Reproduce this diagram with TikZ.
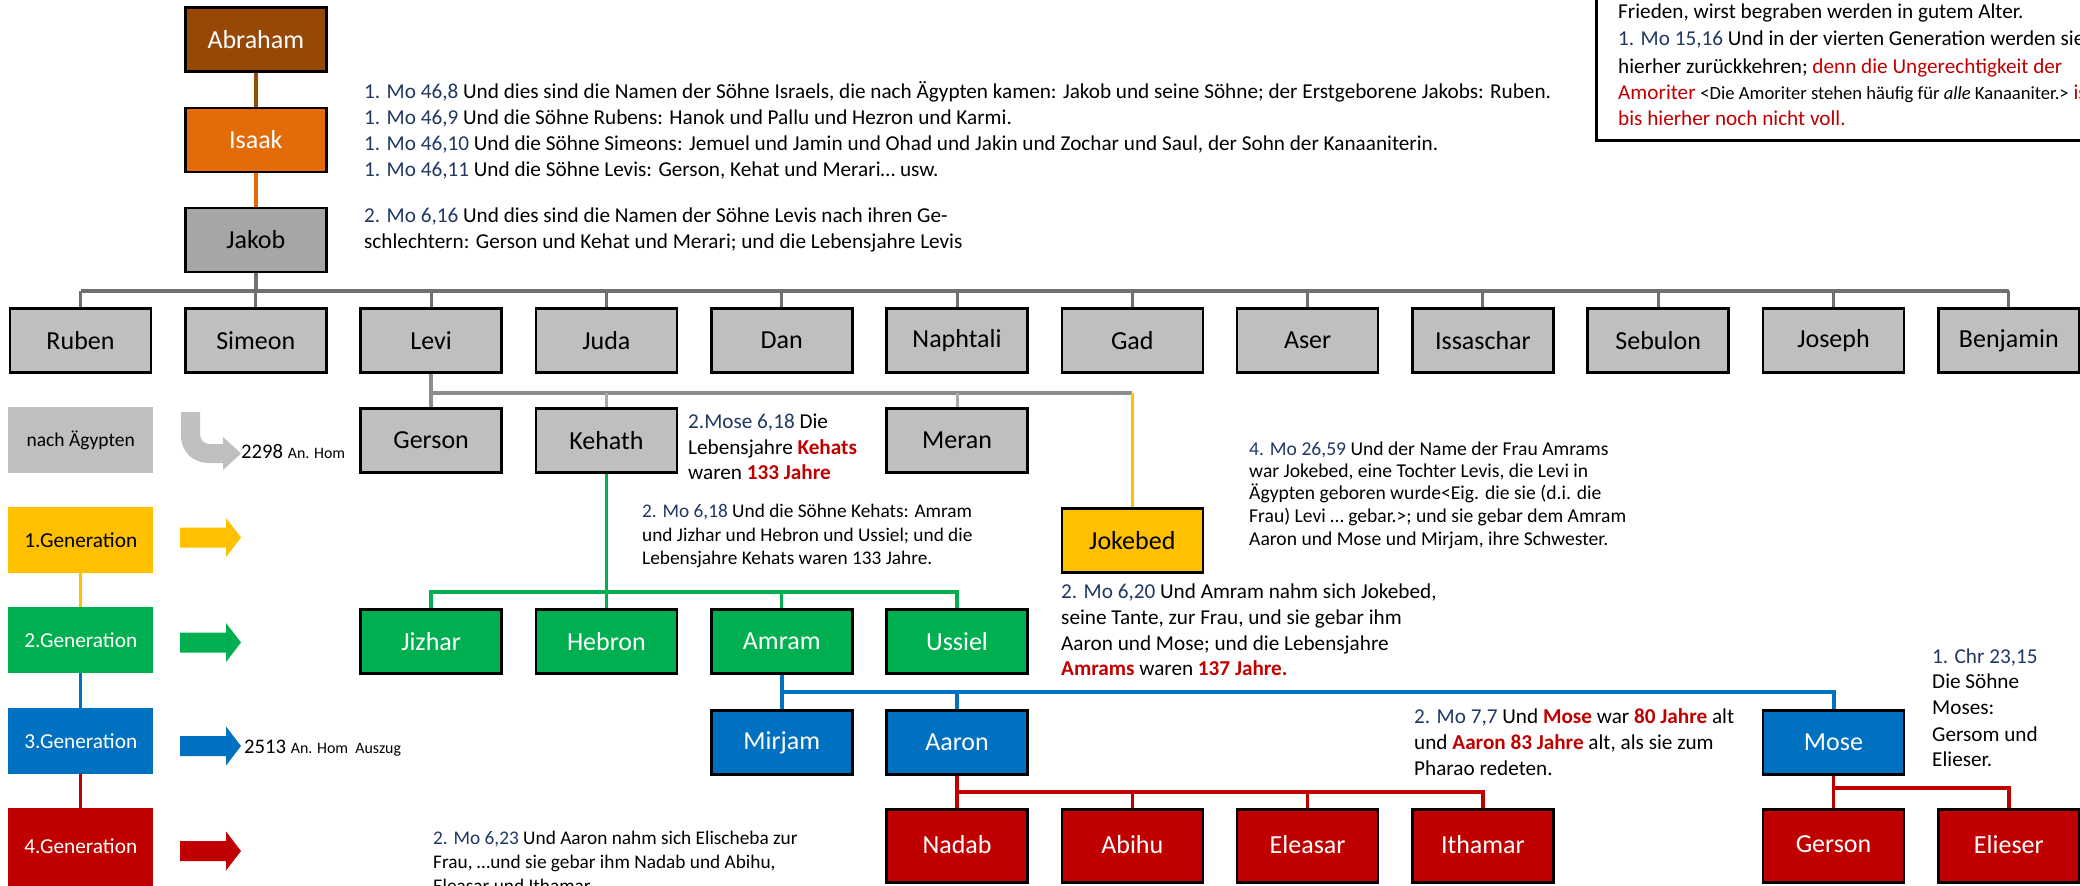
\documentclass[tikz,border=0pt]{standalone}
\usepackage{fontspec}
\setmainfont{Carlito}
\definecolor{brownA}{RGB}{151,71,6}
\definecolor{orangeI}{RGB}{227,108,9}
\definecolor{grayJ}{RGB}{166,166,166}
\definecolor{grayS}{RGB}{191,191,191}
\definecolor{lineG}{RGB}{112,112,112}
\definecolor{lineM}{RGB}{140,140,140}
\definecolor{lineL}{RGB}{170,170,170}
\definecolor{yel}{RGB}{255,192,0}
\definecolor{grn}{RGB}{0,176,80}
\definecolor{blu}{RGB}{0,112,192}
\definecolor{rd}{RGB}{192,0,0}
\definecolor{refblue}{RGB}{31,56,100}
\definecolor{arrowgray}{RGB}{191,191,191}
\newcommand\myfs[1]{\fontsize{#1}{#1}\selectfont}
\newcommand\myref[1]{{\color{refblue}#1}}
\newcommand\myredb[1]{{\color{rd}\bfseries #1}}
\newcommand\myred[1]{{\color{rd}#1}}
\newcommand\blockarrow[3]{\fill[#1] (180,#2-10) -- (226,#2-10) -- (226,#2-19.5) -- (241,#2) -- (226,#2+19.5) -- (226,#2+10) -- (180,#2+10) -- cycle; \coordinate (#3) at (241,#2);}
\pgfdeclarelayer{bg}
\pgfsetlayers{bg,main}
\tikzset{
  person/.style={draw=black, line width=2.6pt, minimum width=141pt, minimum height=64pt, inner sep=0pt, font=\myfs{26}},
  graybox/.style={person, fill=grayS, text=black},
  redbox/.style={person, fill=rd, text=white, minimum height=73pt},
  gen/.style={minimum width=145pt, minimum height=66pt, inner sep=0pt, font=\myfs{21.3}},
  txt/.style={anchor=base west, inner sep=0pt, font=\myfs{21.2}},
  smalltxt/.style={txt, font=\myfs{19.3}},
  tinytxt/.style={txt, font=\myfs{19.6}},
}
\begin{document}
\begin{tikzpicture}[x=1pt, y=-1pt]
\useasboundingbox (0,0) rectangle (2080,886);
\clip (0,0) rectangle (2080,886);
% patriarchs
\node[person, fill=brownA, text=white] (abraham) at (255.8,39.5) {Abraham};
\node[person, fill=orangeI, text=white] (isaak) at (255.8,140) {Isaak};
\node[person, fill=grayJ, text=black] (jakob) at (255.8,240) {Jakob};
% sons of Jakob
\node[graybox] (ruben) at (80.5,340.5) {Ruben};
\node[graybox] (simeon) at (255.8,340.5) {Simeon};
\node[graybox] (levi) at (431.1,340.5) {Levi};
\node[graybox] (juda) at (606.4,340.5) {Juda};
\node[graybox] (dan) at (781.7,340.5) {Dan};
\node[graybox] (naphtali) at (957.0,340.5) {Naphtali};
\node[graybox] (gad) at (1132.3,340.5) {Gad};
\node[graybox] (aser) at (1307.6,340.5) {Aser};
\node[graybox] (issaschar) at (1482.9,340.5) {Issaschar};
\node[graybox] (sebulon) at (1658.2,340.5) {Sebulon};
\node[graybox] (joseph) at (1833.5,340.5) {Joseph};
\node[graybox] (benjamin) at (2008.8,340.5) {Benjamin};
% Levi's children
\node[graybox] (gersonL) at (431.1,440.5) {Gerson};
\node[graybox] (kehath) at (606.4,440.5) {Kehath};
\node[graybox] (meran) at (957.0,440.5) {Meran};
\node[person, fill=yel, text=black] (jokebed) at (1132.3,540.5) {Jokebed};
% green
\node[person, fill=grn, text=white] (jizhar) at (431.1,641.5) {Jizhar};
\node[person, fill=grn, text=white] (hebron) at (606.4,641.5) {Hebron};
\node[person, fill=grn, text=white] (amram) at (781.7,641.5) {Amram};
\node[person, fill=grn, text=white] (ussiel) at (957.0,641.5) {Ussiel};
% blue
\node[person, fill=blu, text=white] (mirjam) at (781.7,742.5) {Mirjam};
\node[person, fill=blu, text=white] (aaron) at (957.0,742.5) {Aaron};
\node[person, fill=blu, text=white] (mose) at (1833.5,742.5) {Mose};
% red
\node[redbox] (nadab) at (957.0,846) {\raisebox{3pt}{Nadab}};
\node[redbox] (abihu) at (1132.3,846) {\raisebox{3pt}{Abihu}};
\node[redbox] (eleasar) at (1307.6,846) {\raisebox{3pt}{Eleasar}};
\node[redbox] (ithamar) at (1482.9,846) {\raisebox{3pt}{Ithamar}};
\node[redbox] (gersonM) at (1833.5,846) {\raisebox{3pt}{Gerson}};
\node[redbox] (elieser) at (2008.8,846) {\raisebox{3pt}{Elieser}};
% left legend
\node[gen, fill=grayS, text=black, font=\myfs{19.5}] (aeg) at (80.75,440) {nach Ägypten};
\node[gen, fill=yel, text=black] (gen1) at (80.75,540) {1.Generation};
\node[gen, fill=grn, text=white] (gen2) at (80.75,640) {2.Generation};
\node[gen, fill=blu, text=white] (gen3) at (80.75,741) {3.Generation};
\node[gen, fill=rd, text=white, minimum height=86pt, anchor=north] (gen4) at (80.75,808) {\raisebox{10pt}{4.Generation}};
% arrows
\fill[arrowgray] (181,412) -- (200,412) -- (200,434) .. controls (200,440) and (204,444) .. (210,444) -- (223,444) -- (223,437) -- (241,453.5) -- (223,470) -- (223,463) -- (210,463) .. controls (192,463) and (181,452) .. (181,434) -- cycle;
\coordinate (aegtip) at (241,453.5);
\blockarrow{yel}{537.5}{a1}
\blockarrow{grn}{642.5}{a2}
\blockarrow{blu}{746}{a3}
\blockarrow{rd}{851}{a4}
\node[anchor=base west, inner sep=0pt, font=\myfs{20.7}] (y2298) at (241,458) {2298 {\myfs{15.9}An. Hom}};
\node[anchor=base west, inner sep=0pt, font=\myfs{20.7}] (y2513) at (244,753) {2513 {\myfs{15.9}An. Hom\ \ Auszug}};
% connectors
\coordinate (barJ) at (0,291);
\coordinate (barL) at (0,393);
\coordinate (barG) at (0,592);
\coordinate (barB) at (0,692);
\coordinate (barR) at (0,792);
\coordinate (barM) at (0,788);
\begin{pgfonlayer}{bg}
\fill[white] (0,0) rectangle (2080,886);
\draw[brownA, line width=4pt] (abraham.south) -- (isaak.north);
\draw[orangeI, line width=4pt] (isaak.south) -- (jakob.north);
\draw[lineG, line width=4.5pt] (jakob.south) -- (jakob.south |- barJ);
\draw[lineG, line width=4.5pt] (ruben.north |- barJ) -- (benjamin.north |- barJ);
\foreach \n in {ruben,simeon,levi,juda,dan,naphtali,gad,aser,issaschar,sebulon,joseph,benjamin}
  \draw[lineG, line width=3pt] (\n.north) -- (\n.north |- barJ);
\draw[lineM, line width=3.5pt] (levi.south) -- (gersonL.north);
\draw[lineM, line width=3.5pt] (gersonL.north |- barL) -- (jokebed.north |- barL);
\draw[lineL, line width=3pt] (kehath.north) -- (kehath.north |- barL);
\draw[lineL, line width=3pt] (meran.north) -- (meran.north |- barL);
\draw[yel, line width=2.5pt] (jokebed.north) -- (jokebed.north |- barL);
\draw[grn, line width=3.5pt] (kehath.south) -- (hebron.north);
\draw[grn, line width=3.5pt] (jizhar.north) -- (jizhar.north |- barG) -- (ussiel.north |- barG) -- (ussiel.north);
\draw[grn, line width=3.5pt] (amram.north) -- (amram.north |- barG);
\draw[blu, line width=4pt] (amram.south) -- (mirjam.north);
\draw[blu, line width=4pt] (mirjam.north |- barB) -- (mose.north |- barB) -- (mose.north);
\draw[blu, line width=4pt] (aaron.north) -- (aaron.north |- barB);
\draw[rd, line width=3.5pt] (aaron.south) -- (nadab.north);
\draw[rd, line width=3.5pt] (nadab.north |- barR) -- (ithamar.north |- barR) -- (ithamar.north);
\draw[rd, line width=3.5pt] (abihu.north) -- (abihu.north |- barR);
\draw[rd, line width=3.5pt] (eleasar.north) -- (eleasar.north |- barR);
\draw[rd, line width=3.5pt] (mose.south) -- (gersonM.north);
\draw[rd, line width=3.5pt] (gersonM.north |- barM) -- (elieser.north |- barM) -- (elieser.north);
\draw[yel, line width=3pt] (gen1.south) -- (gen2.north);
\draw[blu, line width=3pt] (gen2.south) -- (gen3.north);
\draw[rd, line width=3pt] (gen3.south) -- (gen4.north);
\end{pgfonlayer}
% top-left text
\node[txt] (t1) at (364,98) {\myref{1. Mo 46,8} Und dies sind die Namen der Söhne Israels, die nach Ägypten kamen: Jakob und seine Söhne; der Erstgeborene Jakobs: Ruben.};
\node[txt] (t2) at (364,124) {\myref{1. Mo 46,9} Und die Söhne Rubens: Hanok und Pallu und Hezron und Karmi.};
\node[txt] (t3) at (364,150) {\myref{1. Mo 46,10} Und die Söhne Simeons: Jemuel und Jamin und Ohad und Jakin und Zochar und Saul, der Sohn der Kanaaniterin.};
\node[txt] (t4) at (364,176) {\myref{1. Mo 46,11} Und die Söhne Levis: Gerson, Kehat und Merari… usw.};
\node[txt] (t5) at (364,222) {\myref{2. Mo 6,16} Und dies sind die Namen der Söhne Levis nach ihren Ge-};
\node[txt] (t6) at (364,248) {schlechtern: Gerson und Kehat und Merari; und die Lebensjahre Levis};
% top-right box
\draw[black, line width=3pt] (1596,-10) rectangle (2100,140);
\node[txt] (b1) at (1618,18) {Frieden, wirst begraben werden in gutem Alter.};
\node[txt] (b2) at (1618,45) {\myref{1. Mo 15,16} Und in der vierten Generation werden sie};
\node[txt] (b3) at (1618,73) {hierher zurückkehren; \myred{denn die Ungerechtigkeit der}};
\node[txt] (b4) at (1618,99) {\myred{Amoriter} {\myfs{18.6}<Die Amoriter stehen häufig für \textit{alle} Kanaaniter.>} \myred{ist}};
\node[txt] (b5) at (1618,125) {\myred{bis hierher noch nicht voll.}};
% Kehath texts
\node[txt] (k1) at (688,428) {\myref{2.Mose 6,18} Die};
\node[txt] (k2) at (688,454) {Lebensjahre \myredb{Kehats}};
\node[txt] (k3) at (688,479) {waren \myredb{133 Jahre}};
\node[smalltxt] (s1) at (642,517) {\myref{2. Mo 6,18} Und die Söhne Kehats: Amram};
\node[smalltxt] (s2) at (642,541) {und Jizhar und Hebron und Ussiel; und die};
\node[smalltxt] (s3) at (642,564) {Lebensjahre Kehats waren 133 Jahre.};
% 4. Mo 26,59
\node[tinytxt] (n1) at (1249,455) {\myref{4. Mo 26,59} Und der Name der Frau Amrams};
\node[tinytxt] (n2) at (1249,477) {war Jokebed, eine Tochter Levis, die Levi in};
\node[tinytxt] (n3) at (1249,499) {Ägypten geboren wurde<Eig. die sie (d.i. die};
\node[tinytxt] (n4) at (1249,522) {Frau) Levi … gebar.>; und sie gebar dem Amram};
\node[tinytxt] (n5) at (1249,545) {Aaron und Mose und Mirjam, ihre Schwester.};
% 2. Mo 6,20
\node[txt] (m1) at (1061,598) {\myref{2. Mo 6,20} Und Amram nahm sich Jokebed,};
\node[txt] (m2) at (1061,624) {seine Tante, zur Frau, und sie gebar ihm};
\node[txt] (m3) at (1061,650) {Aaron und Mose; und die Lebensjahre};
\node[txt] (m4) at (1061,675) {\myredb{Amrams} waren \myredb{137 Jahre.}};
% 2. Mo 7,7
\node[txt] (p1) at (1414,723) {\myref{2. Mo 7,7} Und \myredb{Mose} war \myredb{80 Jahre} alt};
\node[txt] (p2) at (1414,749) {und \myredb{Aaron 83 Jahre} alt, als sie zum};
\node[txt] (p3) at (1414,775) {Pharao redeten.};
% 1. Chr 23,15
\node[txt] (c1) at (1932,663) {\myref{1. Chr 23,15}};
\node[txt] (c2) at (1932,688) {Die Söhne};
\node[txt] (c3) at (1932,714) {Moses:};
\node[txt] (c4) at (1932,741) {Gersom und};
\node[txt] (c5) at (1932,766) {Elieser.};
% 2. Mo 6,23
\node[smalltxt] (e1) at (433,844) {\myref{2. Mo 6,23} Und Aaron nahm sich Elischeba zur};
\node[smalltxt] (e2) at (433,868) {Frau, …und sie gebar ihm Nadab und Abihu,};
\node[smalltxt] (e3) at (433,892) {Eleasar und Ithamar.};
\end{tikzpicture}
\end{document}
